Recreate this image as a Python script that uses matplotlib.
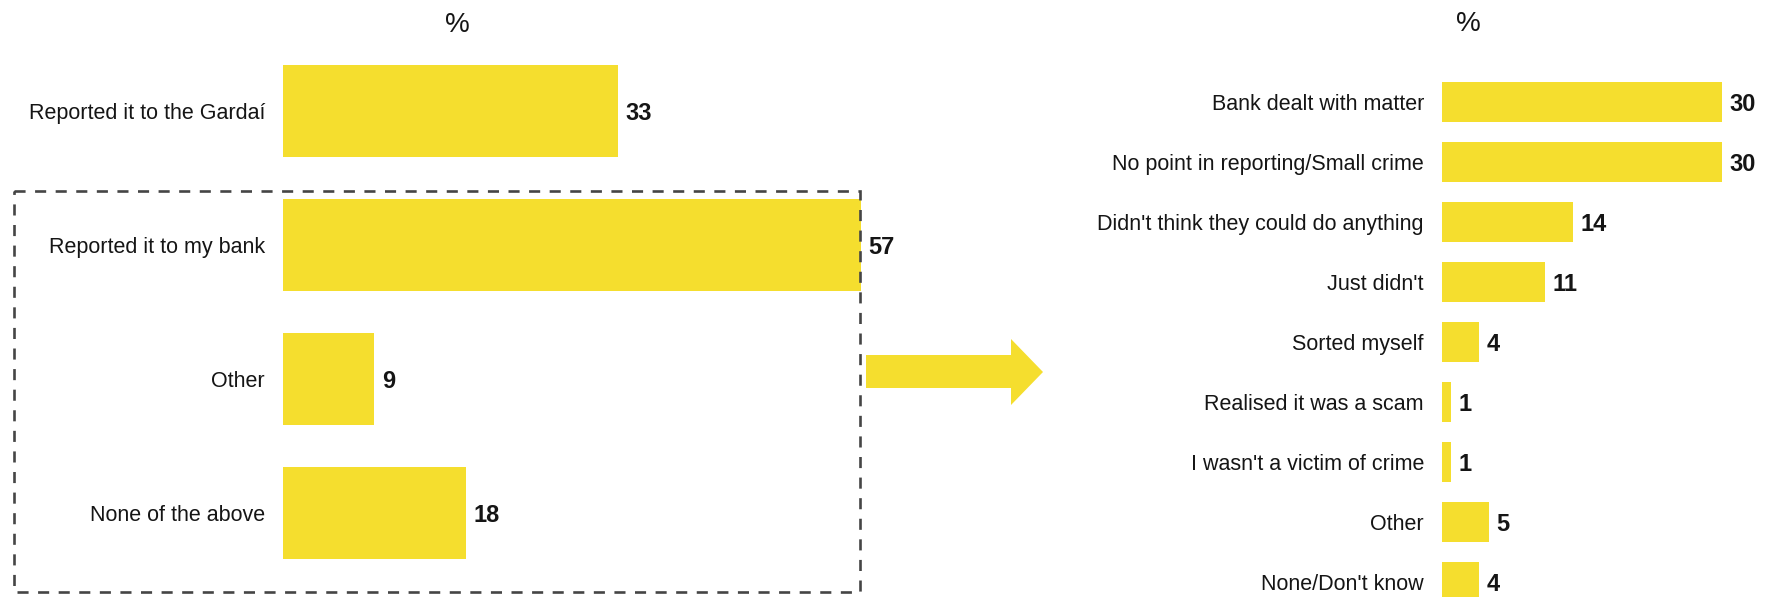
import matplotlib
matplotlib.use("Agg")
import matplotlib.pyplot as plt
from matplotlib.patches import Rectangle, Polygon
from matplotlib.transforms import Affine2D

plt.rcParams['font.family'] = ['Liberation Sans', 'DejaVu Sans']

# Actions taken after the incident
actions = ["Reported it to the Gardaí", "Reported it to my bank", "Other", "None of the above"]
action_pct = [33, 57, 9, 18]

# Reasons for not reporting to the Gardaí
reasons = ["Bank dealt with matter", "No point in reporting/Small crime",
           "Didn't think they could do anything", "Just didn't", "Sorted myself",
           "Realised it was a scam", "I wasn't a victim of crime", "Other",
           "None/Don't know"]
reason_pct = [30, 30, 14, 11, 4, 1, 1, 5, 4]

YELLOW = "#F5DE2E"
TEXT = "#151515"
W, H = 1776, 597
DPI = 100

fig = plt.figure(figsize=(W / DPI, H / DPI), dpi=DPI)
fig.patch.set_facecolor("white")


def px_axes(left, top, width, height):
    """Create axes from pixel box measured from the top-left corner."""
    return fig.add_axes([left / W, (H - top - height) / H, width / W, height / H])


def hbar_panel(ax, labels, values, xmax, bar_h):
    n = len(labels)
    pos = list(range(n))
    ax.barh(pos, values, height=bar_h, color=YELLOW, edgecolor="none")
    ax.set_xlim(0, xmax)
    ax.set_ylim(n - 0.5, -0.5)
    ax.set_yticks(pos)
    ax.set_yticklabels(labels, fontsize=15.5, color=TEXT)
    ax.tick_params(axis="y", length=0, pad=13)
    ax.set_xticks([])
    for s in ax.spines.values():
        s.set_visible(False)
    ax.set_facecolor("none")
    for p, v in zip(pos, values):
        ax.annotate(str(v), xy=(v, p), xytext=(5.5, -1.5), textcoords="offset points",
                    ha="left", va="center", fontsize=17, fontweight="bold",
                    color=TEXT, clip_on=False)


# Left panel: 4 rows, 134 px apart, 10.14 px per percentage point
ax1 = px_axes(283, 44, 60 * 10.14, 4 * 134)
hbar_panel(ax1, actions, action_pct, 60, 0.685)

# Right panel: 9 rows, 60 px apart, 9.33 px per percentage point
ax2 = px_axes(1442, 72, 33 * 9.33, 9 * 60)
hbar_panel(ax2, reasons, reason_pct, 33, 0.68)

# Unit captions
fig.text(457 / W, 1 - 25 / H, "%", ha="center", va="center", fontsize=20, color=TEXT)
fig.text(1468 / W, 1 - 24 / H, "%", ha="center", va="center", fontsize=20, color=TEXT)

# Pixel transform with origin at top-left
pix = Affine2D().scale(1, -1).translate(0, H) + Affine2D().scale(1 / W, 1 / H) + fig.transFigure

# Dashed frame around the non-Gardaí responses
fig.patches.append(Rectangle((14, 191), 846, 401, transform=pix, fill=False,
                             edgecolor="#454545", linewidth=1.9,
                             linestyle=(0, (4.2, 3.6))))

# Arrow leading to the reasons panel
arrow_pts = [(866, 355), (1011, 355), (1011, 339), (1043, 372),
             (1011, 405), (1011, 388), (866, 388)]
fig.patches.append(Polygon(arrow_pts, closed=True, transform=pix,
                           facecolor=YELLOW, edgecolor="none"))

fig.savefig("out.png", dpi=DPI, facecolor="white")
